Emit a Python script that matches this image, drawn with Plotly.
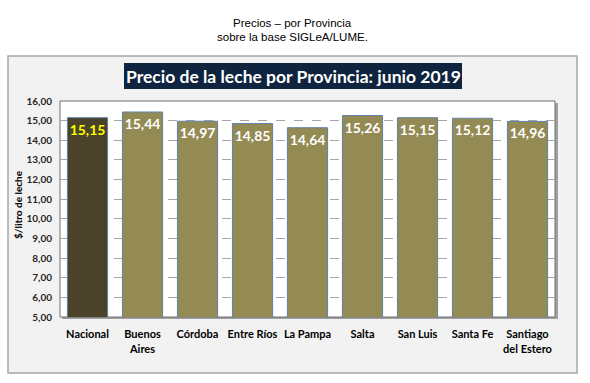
import plotly.graph_objects as go

categories = ["Nacional", "Buenos<br>Aires", "Córdoba", "Entre Ríos", "La Pampa",
              "Salta", "San Luis", "Santa Fe", "Santiago<br>del Estero"]
values = [15.15, 15.44, 14.97, 14.85, 14.64, 15.26, 15.15, 15.12, 14.96]
labels = ["15,15", "15,44", "14,97", "14,85", "14,64", "15,26", "15,15", "15,12", "14,96"]
tick_vals = [5, 6, 7, 8, 9, 10, 11, 12, 13, 14, 15, 16]

bar_colors = ["#4A4229"] + ["#948A54"] * (len(categories) - 1)
text_colors = ["#FFFF00"] + ["#FFFFFF"] * (len(categories) - 1)

W, H = 590, 383
L, R, T, B = 60, 35, 101, 66
pw, ph = W - L - R, H - T - B

def px(x):
    return (x - L) / pw

def py(y):
    return (H - B - y) / ph

fig = go.Figure()
fig.add_trace(go.Bar(
    x=categories, y=values,
    marker=dict(color=bar_colors, line=dict(color="#5F80A8", width=1)),
    text=labels, textposition="inside", insidetextanchor="end", textangle=0,
    textfont=dict(family="Lato", size=14, color=text_colors, weight="bold"),
    constraintext="none",
    width=0.73,
    hoverinfo="skip",
))

shapes = [
    dict(type="rect", xref="paper", yref="paper", layer="below",
         x0=px(8), x1=px(577), y0=py(373), y1=py(56),
         fillcolor="#F2F2F2", line=dict(color="#A6A6A6", width=1.5)),
    dict(type="rect", xref="paper", yref="paper", layer="below",
         x0=px(62), x1=px(558), y0=py(319), y1=py(103),
         fillcolor="#A0A0A0", line=dict(width=0)),
    dict(type="rect", xref="paper", yref="paper", layer="below",
         x0=0, x1=1, y0=0, y1=1,
         fillcolor="#FFFFFF", line=dict(color="#6E6E6E", width=1)),
    dict(type="rect", xref="paper", yref="paper", layer="below",
         x0=px(124), x1=px(462), y0=py(89), y1=py(63),
         fillcolor="#0F243E", line=dict(width=0)),
]

def ann(text, x, y, font, angle=0):
    return dict(text=text, xref="paper", yref="paper", x=px(x), y=py(y),
                xanchor="center", yanchor="middle", showarrow=False,
                textangle=angle, font=font)

annotations = [
    ann("Precios – por Provincia", 292, 23,
        dict(family="Liberation Sans", size=11.5, color="#000000")),
    ann("sobre la base SIGLeA/LUME.", 292, 37,
        dict(family="Liberation Sans", size=11.5, color="#000000")),
    ann("<b>Precio de la leche por Provincia: junio 2019</b>", 293, 76,
        dict(family="Lato", size=17.5, color="#FFFFFF")),
    ann("<b>$/litro de leche</b>", 18, 205,
        dict(family="Lato", size=10, color="#000000"), angle=-90),
]

fig.update_layout(
    width=W, height=H,
    margin=dict(l=L, r=R, t=T, b=B, autoexpand=False),
    paper_bgcolor="#FFFFFF",
    plot_bgcolor="rgba(0,0,0,0)",
    separators=",.",
    showlegend=False,
    bargap=0.27,
    shapes=shapes,
    annotations=annotations,
    xaxis=dict(
        automargin=False,
        tickfont=dict(family="Lato", size=11, color="#000000", weight="bold"),
        showgrid=False, showline=False, zeroline=False,
        ticks="outside", ticklen=7, tickcolor="rgba(0,0,0,0)",
    ),
    yaxis=dict(
        automargin=False,
        range=[5, 16], tickvals=tick_vals, tickformat=".2f",
        tickfont=dict(family="Lato", size=10, color="#262626", weight="bold"),
        showgrid=True, gridcolor="#A6A6A6", griddash="dash", gridwidth=1,
        zeroline=False, showline=False,
        ticks="outside", ticklen=5, tickcolor="rgba(0,0,0,0)",
    ),
)

fig.write_html("out.html", config={"displayModeBar": False},
               post_script="document.body.style.margin='0';")
